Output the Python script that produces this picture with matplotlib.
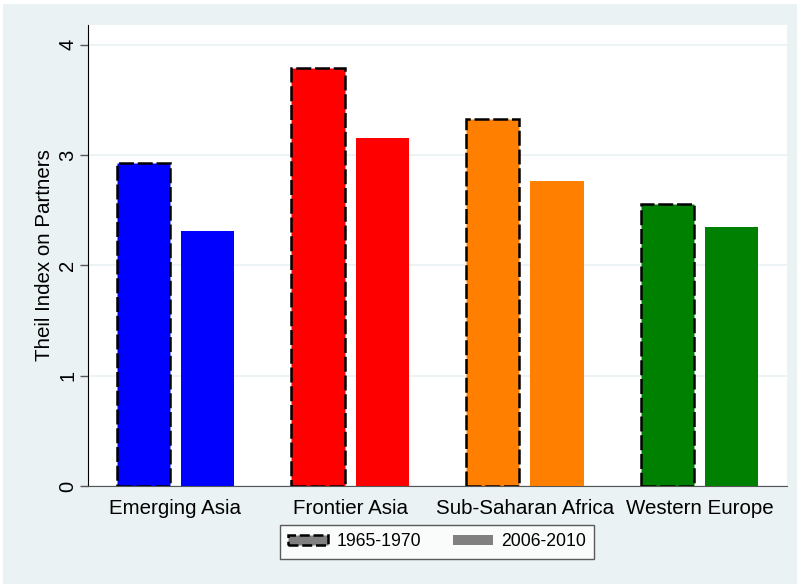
import matplotlib
matplotlib.use("Agg")
import matplotlib.pyplot as plt
from matplotlib.patches import Patch, Rectangle
import numpy as np

plt.rcParams['font.family'] = ['Liberation Sans', 'DejaVu Sans']

regions = ["Emerging Asia", "Frontier Asia", "Sub-Saharan Africa", "Western Europe"]
early = [2.93, 3.79, 3.33, 2.56]   # 1965-1970
late = [2.31, 3.155, 2.77, 2.35]   # 2006-2010
colors = ["#0000FF", "#FF0000", "#FF7F00", "#008000"]
labels = ["1965-1970", "2006-2010"]

bg = "#EAF2F3"
fig = plt.figure(figsize=(7.97, 5.84), dpi=100)
fig.patch.set_facecolor("white")
fig.patches.append(Rectangle((3/797, 0), 1, 1 - 4/584, transform=fig.transFigure,
                             facecolor=bg, edgecolor="none", zorder=-10))
ax = fig.add_axes([88/797, 98/584, 699/797, 461/584])

x = np.arange(len(regions))
w = 0.304
off = 0.184
ax.bar(x - off, early, w, color=colors, edgecolor="black", linewidth=1.8,
       linestyle=(0, (6, 1.5)), zorder=3)
ax.bar(x + off, late, w, color=colors, edgecolor="none", zorder=3)

ax.set_xlim(-0.5, 3.5)
ax.set_ylim(0, 4.18)
ax.set_yticks([0, 1, 2, 3, 4])
ax.set_yticklabels(["0", "1", "2", "3", "4"], rotation=90, va="center", fontsize=14.5)
ax.set_xticks(x)
ax.set_xticklabels(regions, fontsize=14.8)
ax.tick_params(axis="x", length=0, pad=9.5)
ax.tick_params(axis="y", length=5.8, color="#555555", width=1, pad=2)
ax.grid(axis="y", color=bg, linewidth=1.2, zorder=0)
ax.set_ylabel("Theil Index on Partners", fontsize=14.8, labelpad=3)
for s in ["top", "right"]:
    ax.spines[s].set_visible(False)
ax.spines["left"].set_color("black")
ax.spines["bottom"].set_color("#555555")

handles = [Patch(facecolor="#808080", edgecolor="black", linewidth=1.8, linestyle=(0, (4, 1.5))),
           Patch(facecolor="#808080", edgecolor="none")]
leg = fig.legend(handles, labels, loc="center", bbox_to_anchor=(437/797, 1 - 542/584),
                 ncol=2, frameon=True, fancybox=False, fontsize=12.7,
                 handlelength=2.27, handleheight=0.45, columnspacing=1.8, borderpad=0.5,
                 handletextpad=0.45)
leg.get_frame().set_edgecolor("#333333")
leg.get_frame().set_linewidth(1)

fig.savefig("out.png", dpi=100, facecolor=fig.get_facecolor())
